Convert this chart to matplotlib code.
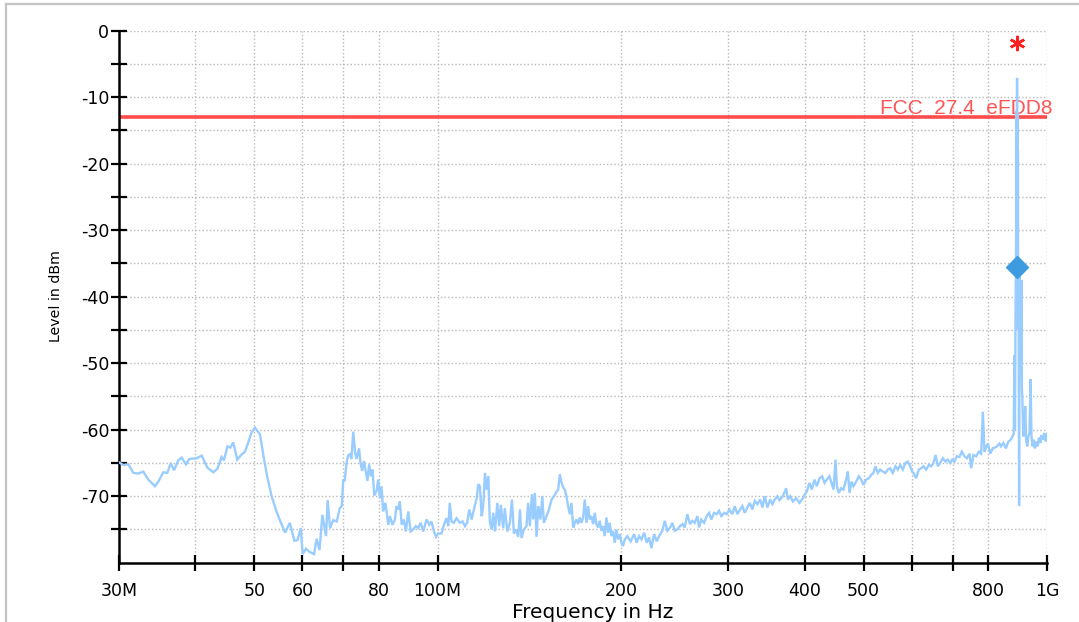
import numpy as np
import matplotlib
matplotlib.use("Agg")
import matplotlib.pyplot as plt
from matplotlib.ticker import FixedLocator, FixedFormatter, NullLocator
from matplotlib.lines import Line2D

# ---------------- data (frequency in MHz, level in dBm) ----------------
seg1_f = [30.0, 30.5, 31.08, 31.67, 32.27, 32.89, 33.51, 34.37, 34.81, 35.47, 36.01, 36.47, 36.93, 37.54,
          38.01, 38.64, 39.13, 40.23, 41.0, 41.89, 42.85, 43.5, 44.2, 44.6, 45.2, 45.7, 46.2, 46.9, 47.7,
          48.3, 48.9, 49.5, 50.15, 51.1, 51.8, 52.5, 53.4, 54.4, 55.1, 56.2, 57.2, 58.2, 58.9, 59.6, 60.05,
          60.8, 61.7, 62.7, 63.3, 64.0, 64.7, 65.6, 66.0, 66.6, 67.4, 68.3, 69.1]
seg1_l = [-64.9, -65.3, -65.2, -66.5, -66.6, -66.3, -67.5, -68.5, -67.8, -66.4, -66.5, -65.0, -66.1, -64.6,
          -64.2, -65.2, -64.4, -64.3, -63.9, -65.7, -66.4, -65.9, -64.1, -64.6, -62.5, -62.7, -61.9, -64.5,
          -63.7, -63.3, -61.9, -60.4, -59.7, -60.7, -64.0, -67.0, -70.0, -72.3, -73.6, -75.5, -74.0, -76.7,
          -76.6, -74.8, -78.7, -77.9, -78.4, -78.7, -76.4, -78.1, -72.8, -76.0, -70.6, -74.8, -73.6, -73.8, -71.8]

seg2_f = [69.6, 70.0, 70.4, 70.9, 71.3, 71.8, 72.2, 72.7, 73.2, 73.6, 74.3, 74.7, 75.2, 75.7, 76.3, 76.7,
          77.2, 77.7, 78.2, 78.7, 79.4, 79.9, 80.4, 80.9, 81.4, 82.1, 83.0, 83.5, 84.3, 85.1, 85.6, 86.2,
          86.7, 87.3, 88.0, 88.7, 89.5, 90.3, 91.2, 92.1, 92.9, 93.8, 94.7, 95.9, 96.9, 97.7, 98.6, 99.4,
          100.2, 101.5, 102.4, 103.4, 104.1, 104.7, 105.4, 106.3, 107.4, 108.8, 109.9, 110.9, 111.8, 112.7,
          113.7, 114.7, 115.9, 116.6, 117.3, 118.1, 118.8, 119.6, 120.3, 121.1, 121.8, 122.6, 123.4, 124.2,
          125.3, 126.2, 127.0, 128.1, 128.9, 130.1, 131.4, 132.4, 133.4, 134.4, 135.6, 136.5, 137.3, 138.5,
          139.9, 140.8, 141.7, 142.8, 143.5, 144.4, 145.3, 146.3, 147.5, 148.5, 149.4, 150.9, 152.3, 153.8,
          155.2, 156.3, 157.7, 158.7]
seg2_l = [-71.5, -67.6, -67.6, -64.9, -63.9, -63.7, -64.4, -60.3, -63.4, -64.4,
          -62.8, -64.9, -66.2, -64.7, -66.5, -67.7, -65.2, -67.0, -66.0, -69.9,
          -69.2, -67.5, -70.3, -68.5, -72.3, -71.0, -74.3, -73.0, -74.3, -73.5,
          -71.5, -72.0, -70.8, -74.3, -73.5, -75.3, -72.3, -75.3, -75.0, -74.5,
          -74.8, -74.0, -75.3, -73.5, -74.3, -73.8, -75.3, -76.1, -75.6, -75.6,
          -74.3, -73.3, -74.5, -71.0, -73.8, -74.0, -73.3, -74.0, -73.8, -74.5,
          -74.0, -72.0, -73.5, -72.0, -70.3, -68.2, -68.5, -73.0, -71.5, -66.5,
          -69.0, -67.0, -73.8, -75.0, -72.5, -75.3, -71.0, -74.5, -71.3, -74.8,
          -71.8, -75.3, -74.0, -70.5, -75.6, -75.0, -76.1, -72.0, -76.3, -75.0,
          -74.5, -71.0, -74.5, -69.7, -73.5, -69.5, -76.1, -71.5, -73.5, -70.0,
          -74.0, -73.0, -72.0, -70.5, -70.0, -69.5, -69.0, -66.7]

seg3_f = [159.7, 160.7, 161.7, 162.7, 163.7, 164.8, 165.8, 166.9, 167.9, 169.0, 170.0, 171.1, 172.2, 173.3,
          174.4, 175.5, 176.6, 177.7, 178.8, 180.0, 181.1, 182.2, 183.4, 184.5, 185.7, 186.9, 188.0, 189.2,
          190.4, 191.6, 192.8, 194.0, 195.3, 196.5, 197.7, 199.0, 200.3, 201.5, 202.8, 204.8, 207.4, 210.1,
          212.2, 214.1, 216.0, 218.2, 220.4, 222.3, 224.3, 226.6, 228.9, 230.9, 233.8, 235.9, 238.3, 240.7,
          242.8, 244.9, 247.4, 249.9, 252.1, 254.4, 256.9, 259.5, 261.8, 264.2, 266.8, 268.5, 270.9, 273.6,
          276.4, 278.9, 281.3, 284.2, 287.1, 289.6, 292.2, 295.2, 298.1, 301.2, 304.6, 307.3, 310.4, 313.6,
          316.3, 319.1, 322.4, 325.2, 328.5, 331.4, 334.8, 338.2, 341.2, 344.2, 347.7, 351.2, 354.3, 357.4, 361.1]
seg3_l = [-67.9, -68.7, -69.0, -70.0, -71.5, -72.7, -71.0, -74.7, -74.0, -73.5,
          -74.2, -73.2, -74.0, -73.2, -70.5, -74.0, -71.5, -73.5, -73.0, -74.2,
          -72.5, -74.2, -74.7, -73.7, -75.2, -74.5, -76.0, -73.2, -75.5, -74.0,
          -76.0, -75.2, -77.0, -75.0, -76.5, -75.7, -77.0, -77.5, -76.5, -76.0,
          -76.8, -75.7, -77.0, -76.0, -76.5, -75.5, -77.0, -76.2, -77.8, -75.7,
          -76.8, -76.0, -75.2, -73.7, -75.2, -74.7, -74.0, -75.2, -75.0, -74.5,
          -74.2, -74.7, -72.7, -74.2, -73.7, -74.0, -73.0, -74.7, -73.5, -74.0,
          -73.0, -72.5, -73.5, -72.5, -72.7, -72.2, -73.0, -72.5, -72.7, -72.0,
          -72.7, -71.5, -72.7, -72.0, -71.5, -72.5, -71.7, -71.0, -72.0, -70.7,
          -71.2, -70.5, -71.7, -70.0, -71.7, -70.5, -71.2, -70.5, -70.0]

seg4_f = [363.9, 368.6, 373.2, 375.6, 378.9, 382.8, 387.6, 392.5, 397.5, 400.0, 403.5, 407.6, 411.2, 415.4,
          419.1, 423.4, 427.6, 431.4, 435.2, 439.6, 443.0, 446.3, 449.7, 452.0, 455.4, 459.4, 463.5, 468.2,
          471.2, 474.1, 477.7, 481.3, 486.2, 491.1, 495.5, 499.8, 504.9, 510.0, 514.5, 519.1, 523.0, 527.6,
          532.3, 537.7, 543.2, 548.0, 552.8, 558.4, 564.1, 569.1, 574.1, 579.9, 585.8, 591.0, 596.2, 600.8,
          603.8, 609.9, 616.1, 621.6, 627.1, 633.4, 639.8, 645.5, 651.2, 656.2, 662.0, 667.9, 674.6, 681.4,
          687.5, 693.6, 698.8, 705.0, 711.3, 718.5, 724.8, 732.2, 738.7, 746.2, 750.9, 757.5, 765.2, 773.0,
          779.8, 784.7, 789.7, 794.7, 799.7, 806.8, 814.9, 825.2, 835.7]
seg4_l = [-70.6, -70.0, -68.8, -70.5, -70.0, -70.8, -70.3, -71.0, -70.3, -69.8,
          -69.3, -68.0, -69.0, -67.5, -68.5, -67.3, -67.0, -68.0, -67.5, -67.0,
          -68.0, -69.0, -64.5, -68.5, -69.5, -68.8, -69.0, -67.5, -66.3, -69.5,
          -67.8, -68.5, -67.8, -67.0, -67.5, -68.3, -67.5, -67.3, -66.8, -66.5,
          -65.5, -66.5, -66.0, -66.3, -66.5, -66.0, -65.8, -66.5, -65.5, -66.0,
          -65.3, -66.0, -65.0, -64.8, -65.5, -66.3, -66.5, -67.3, -66.0, -65.8,
          -65.5, -66.0, -65.3, -65.5, -65.0, -63.8, -65.5, -65.0, -64.3, -64.8,
          -64.5, -65.0, -64.5, -64.8, -64.0, -64.1, -63.3, -64.0, -64.3, -63.6,
          -65.8, -63.8, -64.0, -63.3, -63.6, -57.3, -63.3, -62.6, -62.1, -63.6,
          -62.8, -62.6, -62.1]

seg5_f = [840, 848, 856, 864, 872, 878, 882, 884, 886, 888, 890, 891, 892, 892.5, 893, 893.5, 894, 894.5,
          895, 896, 897, 898, 899, 900, 901, 902, 903.5, 905, 906.5, 908, 909.5, 911, 914, 918, 921, 924, 928,
          932, 936, 940, 943, 947, 951, 955, 960, 965, 970, 975, 980, 985, 990, 995, 1000]
seg5_l = [-62.5, -62.0, -62.8, -61.8, -61.5, -61.0, -60.6, -48.8, -60.0, -42.5,
          -30.0, -45.0, -12.0, -30.0, -7.1, -25.0, -12.5, -18.0, -40.0, -18.0,
          -45.0, -36.0, -55.0, -71.4, -45.0, -36.5, -50.0, -38.0, -52.0, -37.5,
          -54.0, -55.0, -61.0, -60.0, -56.5, -61.5, -62.5, -61.0, -60.5, -52.4,
          -61.0, -62.5, -61.5, -62.8, -61.8, -62.5, -61.2, -62.0, -60.8, -61.5,
          -60.5, -61.8, -60.6]

freq_mhz = np.array(seg1_f + seg2_f + seg3_f + seg4_f + seg5_f)
level_dbm = np.array(seg1_l + seg2_l + seg3_l + seg4_l + seg5_l)

limit_level = -13.0
limit_label = "FCC  27.4  eFDD8"
peak_freq = 893.0
marker_level = -35.5
peak_star_level = -1.8

x_ticks = [30, 40, 50, 60, 70, 80, 100, 200, 300, 400, 500, 600, 700, 800, 1000]
x_tick_labels = ["30M", "", "50", "60", "", "80", "100M", "200", "300", "400", "500", "", "", "800", "1G"]
y_major = [0, -10, -20, -30, -40, -50, -60, -70]
y_major_labels = ["0", "-10", "-20", "-30", "-40", "-50", "-60", "-70"]
y_minor = [-5, -15, -25, -35, -45, -55, -65, -75]

# ---------------- figure ----------------
W, H = 1079, 622
fig = plt.figure(figsize=(W / 100, H / 100), dpi=100)
plt.rcParams['font.family'] = ['DejaVu Sans']

# outer light grey frame (top and left edges visible)
fig.add_artist(Line2D([6 / W, 1.0], [1 - 4 / H, 1 - 4 / H], color="#c4c4c4", lw=1.6))
fig.add_artist(Line2D([6 / W, 6 / W], [0.0, 1 - 4 / H], color="#c4c4c4", lw=1.6))

ax_l, ax_r = 119, 1047
ax_t, ax_b = 30.7, 562.7
ax = fig.add_axes([ax_l / W, 1 - ax_b / H, (ax_r - ax_l) / W, (ax_b - ax_t) / H])

ax.set_xscale("log")
ax.set_xlim(30, 1000)
ax.set_ylim(-80, 0)

# grid
grid_kw = dict(color="#b8b8b8", lw=1.0, dashes=(1.0, 1.6), zorder=0.5)
for xv in x_ticks[1:]:
    ax.axvline(xv, **grid_kw)
for yv in y_major + y_minor:
    ax.axhline(yv, **grid_kw)

# limit line + label
ax.axhline(limit_level, color="#ff4c4c", lw=2.6, zorder=2)
ax.annotate(limit_label, xy=(1.0 + 6 / (ax_r - ax_l), limit_level), xycoords=("axes fraction", "data"),
            xytext=(0, 2.2), textcoords="offset points", ha="right", va="baseline",
            color="#ff5555", fontsize=15, family=["Liberation Sans", "DejaVu Sans"],
            zorder=2.5, annotation_clip=False)

# spectrum trace
ax.plot(freq_mhz, level_dbm, color="#99ccff", lw=1.7, zorder=3, solid_joinstyle="miter")

# markers
ax.plot([peak_freq], [marker_level], marker="D", ms=11, color="#3d9be0", mec="#3d9be0", zorder=4, clip_on=False)
ax.plot([peak_freq], [peak_star_level], marker=(6, 2, 0), ms=11, mew=1.8, color="#ff2020", zorder=4, clip_on=False)

# spines
for s in ["top", "right"]:
    ax.spines[s].set_visible(False)
for s in ["left", "bottom"]:
    ax.spines[s].set_linewidth(1.8)
    ax.spines[s].set_color("black")

# ticks
ax.xaxis.set_major_locator(FixedLocator(x_ticks))
ax.xaxis.set_major_formatter(FixedFormatter(x_tick_labels))
ax.xaxis.set_minor_locator(NullLocator())
ax.yaxis.set_major_locator(FixedLocator(y_major))
ax.yaxis.set_major_formatter(FixedFormatter(y_major_labels))
ax.yaxis.set_minor_locator(FixedLocator(y_minor))

ax.tick_params(axis="x", which="major", direction="inout", length=11, width=1.6, pad=8.5,
               labelsize=12.5, colors="black")
ax.tick_params(axis="y", which="major", direction="inout", length=11, width=1.6, pad=1.5,
               labelsize=12.5, colors="black")
ax.tick_params(axis="y", which="minor", direction="inout", length=11, width=1.6)

ax.set_facecolor("white")
ax.patch.set_alpha(0)

# axis labels
fig.text(56 / W, 1 - 296 / H, "Level in dBm", rotation=90, ha="center", va="center", fontsize=10.2)
fig.text(593 / W, 1 - 617.5 / H, "Frequency in Hz", ha="center", va="baseline", fontsize=14.5)

fig.savefig("out.png", dpi=100, facecolor="white")
